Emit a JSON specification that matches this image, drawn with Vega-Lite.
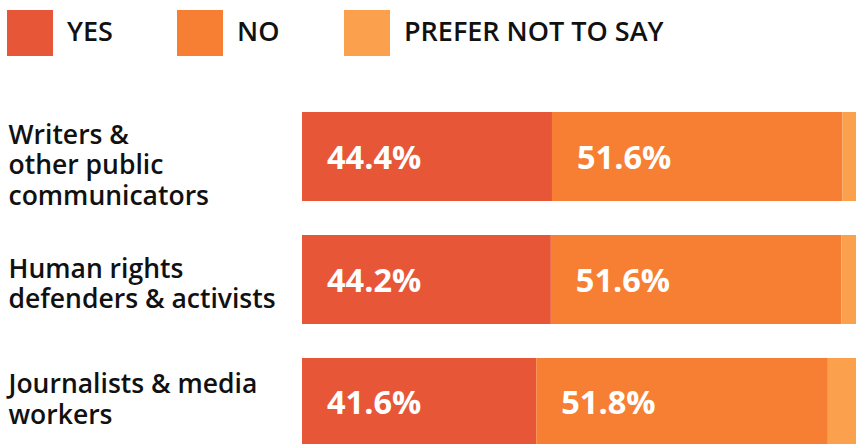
{
  "$schema": "https://vega.github.io/schema/vega-lite/v6.json",
  "width": 554,
  "height": 332,
  "autosize": "none",
  "padding": {"left": 302, "top": 112, "right": 0, "bottom": 0},
  "config": {"view": {"stroke": null}, "font": "Open Sans"},
  "data": {
    "values": [
      {"group": "Writers &|other public|communicators", "answer": "YES", "value": 44.4},
      {"group": "Writers &|other public|communicators", "answer": "NO", "value": 51.6},
      {"group": "Writers &|other public|communicators", "answer": "PREFER NOT TO SAY", "value": 4.0},
      {"group": "Human rights|defenders & activists", "answer": "YES", "value": 44.2},
      {"group": "Human rights|defenders & activists", "answer": "NO", "value": 51.6},
      {"group": "Human rights|defenders & activists", "answer": "PREFER NOT TO SAY", "value": 4.2},
      {"group": "Journalists & media|workers", "answer": "YES", "value": 41.6},
      {"group": "Journalists & media|workers", "answer": "NO", "value": 51.8},
      {"group": "Journalists & media|workers", "answer": "PREFER NOT TO SAY", "value": 6.6}
    ]
  },
  "transform": [
    {"calculate": "indexof(['YES','NO','PREFER NOT TO SAY'], datum.answer)", "as": "rank"},
    {"stack": "value", "groupby": ["group"], "sort": [{"field": "rank", "order": "ascending"}], "as": ["x0", "x1"]},
    {"calculate": "format(datum.value, '.1f') + '%'", "as": "label"}
  ],
  "encoding": {
    "y": {
      "field": "group",
      "type": "nominal",
      "sort": null,
      "scale": {"range": [0, 335], "paddingInner": 0.2764, "paddingOuter": 0},
      "axis": {
        "title": null,
        "domain": false,
        "ticks": false,
        "tickSize": 0,
        "labelAlign": "left",
        "labelBaseline": "middle",
        "labelPadding": 294,
        "labelLimit": 300,
        "labelFontSize": 26.5,
        "labelFontWeight": 600,
        "labelColor": "#111111",
        "labelLineHeight": 30.5,
        "labelOverlap": false,
        "labelExpr": "split(datum.label, '|')",
        "labelOffset": {
          "condition": [
            {"test": "indexof(datum.value, 'Writers') === 0", "value": -21},
            {"test": "indexof(datum.value, 'Human') === 0", "value": -10}
          ],
          "value": -17
        }
      }
    }
  },
  "layer": [
    {
      "mark": {"type": "bar", "clip": true},
      "encoding": {
        "x": {"field": "x0", "type": "quantitative", "scale": {"domain": [0, 98.4], "nice": false, "zero": true}, "axis": null},
        "x2": {"field": "x1"},
        "color": {
          "field": "answer",
          "type": "nominal",
          "scale": {"domain": ["YES", "NO", "PREFER NOT TO SAY"], "range": ["#E85638", "#F77F34", "#FBA04D"]},
          "legend": {
            "orient": "none",
            "legendX": -295,
            "legendY": -102,
            "direction": "horizontal",
            "title": null,
            "symbolType": "square",
            "symbolSize": 2116,
            "symbolStrokeWidth": 0,
            "symbolOpacity": 1,
            "labelFontSize": 27,
            "labelFontWeight": 600,
            "labelColor": "#111111",
            "labelOffset": 14,
            "columnPadding": 64,
            "padding": 0,
            "labelLimit": 400
          }
        }
      }
    },
    {
      "transform": [{"filter": "datum.answer !== 'PREFER NOT TO SAY'"}],
      "mark": {"type": "text", "align": "left", "baseline": "middle", "dx": 25, "dy": 2, "color": "white", "fontSize": 32.5, "fontWeight": 700},
      "encoding": {
        "x": {"field": "x0", "type": "quantitative"},
        "text": {"field": "label"}
      }
    }
  ]
}
